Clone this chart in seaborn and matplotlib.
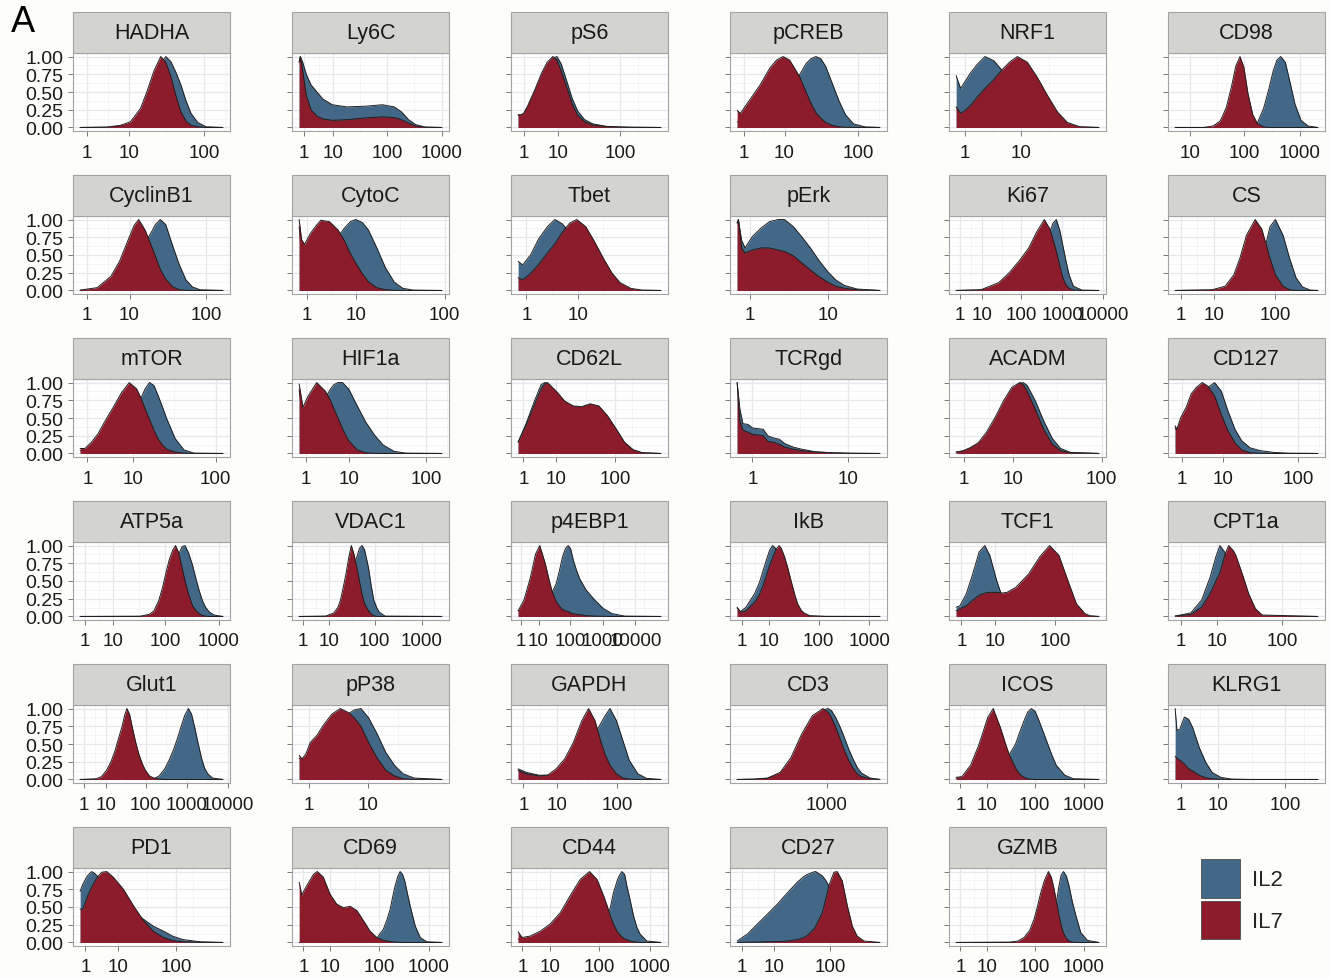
import numpy as np
import pandas as pd
import matplotlib
matplotlib.use("Agg")
import matplotlib.pyplot as plt
from matplotlib.patches import Rectangle, Patch
import seaborn as sns

# ---------------------------------------------------------------------------
# Data: per-marker density profiles for IL2- and IL7-cultured cells.
# Positions are on the arcsinh(x / 5) intensity scale; densities are scaled
# so that each group's maximum equals 1.
# ---------------------------------------------------------------------------
MARKERS = [
    "HADHA", "Ly6C", "pS6", "pCREB", "NRF1", "CD98",
    "CyclinB1", "CytoC", "Tbet", "pErk", "Ki67", "CS",
    "mTOR", "HIF1a", "CD62L", "TCRgd", "ACADM", "CD127",
    "ATP5a", "VDAC1", "p4EBP1", "IkB", "TCF1", "CPT1a",
    "Glut1", "pP38", "GAPDH", "CD3", "ICOS", "KLRG1",
    "PD1", "CD69", "CD44", "CD27", "GZMB",
]
GROUPS = ["IL2", "IL7"]
GROUP_COLORS = {"IL2": "#436887", "IL7": "#8C1C2B"}
COFACTOR = 5
TICK_VALUES = [1, 10, 100, 1000, 10000]
Y_TICKS = [0.0, 0.25, 0.5, 0.75, 1.0]

POS = [
    [0, 0.8, 1.2, 1.5, 1.8, 2.0, 2.2, 2.4, 2.55, 2.7, 2.85, 3.0, 3.15, 3.3, 3.5, 3.75, 4.25],  # HADHA
    [0, 0.05, 0.15, 0.3, 0.5, 0.75, 1.0, 1.4, 2.0, 2.8, 3.5, 4.0, 4.3, 4.6, 4.9, 5.3, 6.0],  # Ly6C
    [0, 0.1, 0.2, 0.35, 0.6, 0.85, 1.05, 1.25, 1.4, 1.55, 1.75, 1.95, 2.15, 2.4, 2.7, 3.2, 4.0, 5.15],  # pS6
    [0, 0.1, 0.4, 0.7, 1.0, 1.2, 1.4, 1.6, 1.9, 2.1, 2.25, 2.4, 2.55, 2.7, 2.9, 3.1, 3.3, 3.55, 3.9, 4.35],  # pCREB
    [0, 0.1, 0.2, 0.32, 0.47, 0.64, 0.84, 1.0, 1.2, 1.36, 1.58, 1.8, 2.03, 2.25, 2.47, 2.75, 3.17],  # NRF1
    [0.83, 2.0, 2.4, 2.7, 2.95, 3.15, 3.35, 3.52, 3.68, 3.85, 4.05, 4.25, 4.5, 4.7, 4.9, 5.05, 5.21, 5.4, 5.6, 5.8, 6.05, 6.35, 6.75],  # CD98
    [0, 0.5, 0.9, 1.15, 1.4, 1.58, 1.71, 1.9, 2.09, 2.2, 2.34, 2.5, 2.71, 2.9, 3.09, 3.28, 3.5, 4.17],  # CyclinB1
    [0, 0.06, 0.14, 0.28, 0.44, 0.55, 0.77, 0.99, 1.15, 1.3, 1.43, 1.6, 1.76, 1.97, 2.19, 2.41, 2.63, 2.9, 3.62],  # CytoC
    [0, 0.11, 0.3, 0.5, 0.71, 0.89, 1.07, 1.25, 1.42, 1.64, 1.85, 2.06, 2.27, 2.47, 2.73, 3.0, 3.46],  # Tbet
    [0, 0.02, 0.07, 0.125, 0.24, 0.38, 0.51, 0.65, 0.75, 0.89, 1.02, 1.16, 1.29, 1.43, 1.56, 1.7, 1.9, 2.26],  # pErk
    [0, 1.4, 2.4, 3.0, 3.6, 4.1, 4.56, 4.98, 5.29, 5.47, 5.66, 5.85, 6.02, 6.2, 6.38, 6.62, 7.1, 8.06],  # Ki67
    [0, 1.37, 1.85, 2.17, 2.4, 2.64, 2.96, 3.2, 3.36, 3.51, 3.71, 3.99, 4.23, 4.47, 4.71, 5.0, 5.28],  # CS
    [0, 0.13, 0.31, 0.49, 0.66, 0.9, 1.13, 1.34, 1.54, 1.66, 1.77, 1.89, 2.01, 2.13, 2.24, 2.36, 2.59, 2.83, 3.1, 3.89],  # mTOR
    [0, 0.11, 0.26, 0.51, 0.76, 0.9, 1.01, 1.13, 1.26, 1.44, 1.69, 1.94, 2.19, 2.44, 2.76, 3.1, 4.15],  # HIF1a
    [0, 0.3, 0.63, 0.87, 1.0, 1.11, 1.44, 1.76, 2.09, 2.41, 2.73, 3.06, 3.39, 3.71, 4.03, 4.36, 4.7, 5.41],  # CD62L
    [0, 0.035, 0.075, 0.14, 0.2, 0.27, 0.34, 0.4, 0.47, 0.55, 0.62, 0.73, 0.84, 1.01, 1.24, 1.5, 1.86],  # TCRgd
    [0, 0.18, 0.35, 0.56, 0.77, 0.99, 1.2, 1.41, 1.61, 1.7, 1.8, 2.01, 2.22, 2.44, 2.65, 2.9, 3.62],  # ACADM
    [0, 0.05, 0.17, 0.33, 0.48, 0.63, 0.81, 0.98, 1.18, 1.38, 1.58, 1.79, 1.99, 2.24, 2.54, 2.94, 3.4, 4.27],  # CD127
    [0, 2.6, 3.0, 3.2, 3.4, 3.57, 3.72, 3.85, 4.0, 4.13, 4.27, 4.41, 4.54, 4.69, 4.87, 5.0, 5.15, 5.3, 5.43, 5.6, 5.8, 6.18],  # ATP5a
    [0, 1.3, 1.7, 1.9, 2.02, 2.15, 2.29, 2.42, 2.55, 2.68, 2.82, 2.95, 3.07, 3.2, 3.39, 3.52, 3.65, 3.8, 3.92, 4.2, 6.98],  # VDAC1
    [0, 0.41, 0.87, 1.23, 1.53, 1.93, 2.15, 2.38, 2.69, 2.95, 3.14, 3.35, 3.54, 3.72, 3.91, 4.15, 4.36, 4.82, 5.43, 6.04, 6.65, 7.55, 10.1],  # p4EBP1
    [0, 0.15, 0.4, 0.79, 1.0, 1.18, 1.35, 1.47, 1.6, 1.75, 1.9, 2.0, 2.15, 2.3, 2.44, 2.6, 2.74, 2.9, 3.03, 3.3, 4.0, 6.47],  # IkB
    [0, 0.14, 0.38, 0.62, 0.86, 1.07, 1.26, 1.51, 1.7, 1.9, 2.23, 2.71, 3.12, 3.49, 3.84, 4.17, 4.49, 4.81, 5.0, 5.33],  # TCF1
    [0, 0.54, 0.91, 1.2, 1.4, 1.54, 1.72, 1.84, 2.0, 2.09, 2.31, 2.53, 2.76, 3.0, 4.91],  # CPT1a
    [0, 0.9, 1.2, 1.49, 1.75, 1.97, 2.15, 2.34, 2.5, 2.63, 2.78, 2.94, 3.12, 3.3, 3.5, 3.67, 3.9,
     4.15, 4.45, 4.76, 5.0, 5.24, 5.45, 5.66, 5.88, 6.09, 6.27, 6.45, 6.63, 6.82, 7.0, 7.18, 7.45, 8.03],  # Glut1
    [0, 0.06, 0.14, 0.23, 0.37, 0.5, 0.68, 0.86, 1.04, 1.15, 1.29, 1.45, 1.63, 1.81, 1.99, 2.17, 2.4, 2.98],  # pP38
    [0, 0.3, 0.78, 1.1, 1.42, 1.74, 2.06, 2.38, 2.63, 2.87, 3.1, 3.25, 3.43, 3.67, 3.91, 4.15, 4.47, 4.8, 5.33],  # GAPDH
    [3.9, 4.3, 4.61, 4.91, 5.16, 5.41, 5.66, 5.91, 6.03, 6.11, 6.21, 6.31, 6.41, 6.51, 6.61, 6.71, 6.81, 7.01, 7.24],  # CD3
    [0, 0.27, 0.68, 1.08, 1.48, 1.74, 2.08, 2.3, 2.48, 2.79, 3.0, 3.19, 3.36, 3.53, 3.71, 3.89, 4.1, 4.3, 4.5, 4.7, 5.1, 5.5, 6.7],  # ICOS
    [0, 0.06, 0.16, 0.31, 0.45, 0.59, 0.81, 1.03, 1.24, 1.53, 1.9, 2.5, 4.79],  # KLRG1
    [0, 0.1, 0.28, 0.44, 0.57, 0.7, 0.83, 1.02, 1.27, 1.66, 2.04, 2.42, 2.8, 3.19, 3.57, 3.95, 4.59, 5.47],  # PD1
    [0, 0.12, 0.35, 0.66, 0.84, 1.12, 1.43, 1.74, 2.05, 2.36, 2.67, 2.97, 3.28, 3.59, 3.9, 4.06, 4.21, 4.35,
     4.44, 4.56, 4.67, 4.78, 4.9, 5.0, 5.13, 5.37, 5.6, 5.9, 6.6],  # CD69
    [0, 0.18, 0.55, 1.01, 1.46, 1.92, 2.37, 2.83, 3.25, 3.59, 3.89, 4.05, 4.19, 4.34, 4.5, 4.57, 4.72, 4.85,
     4.95, 5.1, 5.25, 5.4, 5.55, 5.86, 6.5],  # CD44
    [0, 0.41, 0.8, 1.2, 1.59, 1.99, 2.38, 2.64, 2.78, 3.04, 3.11, 3.37, 3.5, 3.63, 3.83, 3.96, 4.16, 4.36, 4.56, 4.75, 5.02, 5.65],  # CD27
    [0, 2.5, 2.9, 3.19, 3.45, 3.66, 3.82, 3.97, 4.15, 4.33, 4.47, 4.6, 4.68, 4.83, 4.93, 5.04, 5.17, 5.3, 5.45, 5.62, 5.85, 6.16, 6.7],  # GZMB
]

DENS_IL2 = [
    [0, 0.003, 0.02, 0.05, 0.17, 0.35, 0.62, 0.90, 1.0, 0.93, 0.78, 0.60, 0.38, 0.20, 0.07, 0.01, 0],
    [0.92, 1.0, 0.92, 0.75, 0.60, 0.50, 0.40, 0.32, 0.29, 0.30, 0.32, 0.29, 0.22, 0.11, 0.04, 0.005, 0],
    [0.17, 0.17, 0.19, 0.29, 0.50, 0.73, 0.88, 0.98, 1.0, 0.90, 0.66, 0.41, 0.23, 0.11, 0.05, 0.015, 0.004, 0],
    [0.08, 0.08, 0.15, 0.22, 0.32, 0.40, 0.48, 0.57, 0.74, 0.90, 0.97, 1.0, 0.97, 0.86, 0.62, 0.38, 0.18, 0.05, 0.008, 0],
    [0.73, 0.55, 0.65, 0.77, 0.89, 1.0, 0.94, 0.82, 0.62, 0.50, 0.35, 0.22, 0.12, 0.06, 0.02, 0.005, 0],
    [0, 0, 0, 0, 0, 0, 0, 0, 0, 0.001, 0.02, 0.07, 0.27, 0.52, 0.80, 0.95, 1.0, 0.92, 0.63, 0.33, 0.10, 0.02, 0],
    [0, 0.01, 0.05, 0.12, 0.26, 0.40, 0.50, 0.67, 0.83, 0.93, 1.0, 0.93, 0.62, 0.36, 0.15, 0.05, 0.01, 0],
    [0.9, 0.5, 0.35, 0.35, 0.42, 0.48, 0.62, 0.76, 0.88, 0.97, 1.0, 0.96, 0.85, 0.60, 0.32, 0.12, 0.03, 0.005, 0],
    [0.41, 0.36, 0.50, 0.73, 0.90, 1.0, 0.94, 0.82, 0.68, 0.50, 0.35, 0.20, 0.10, 0.04, 0.01, 0.002, 0],
    [0.95, 1.0, 0.71, 0.60, 0.76, 0.88, 0.97, 1.0, 1.0, 0.90, 0.76, 0.60, 0.43, 0.27, 0.15, 0.07, 0.02, 0],
    [0, 0.005, 0.06, 0.15, 0.27, 0.40, 0.55, 0.68, 0.82, 0.95, 1.0, 0.85, 0.64, 0.42, 0.22, 0.06, 0.005, 0],
    [0, 0.003, 0.02, 0.06, 0.12, 0.22, 0.40, 0.55, 0.66, 0.90, 1.0, 0.78, 0.46, 0.18, 0.05, 0.005, 0],
    [0.04, 0.05, 0.08, 0.13, 0.20, 0.33, 0.48, 0.62, 0.72, 0.78, 0.91, 1.0, 0.96, 0.81, 0.66, 0.49, 0.21, 0.05, 0.005, 0],
    [0.9, 0.45, 0.40, 0.55, 0.78, 0.90, 0.97, 1.0, 1.0, 0.91, 0.67, 0.44, 0.26, 0.12, 0.03, 0.005, 0],
    [0.16, 0.42, 0.75, 0.97, 1.0, 0.99, 0.87, 0.73, 0.66, 0.65, 0.69, 0.66, 0.52, 0.34, 0.15, 0.05, 0.01, 0],
    [1.0, 0.63, 0.42, 0.41, 0.36, 0.35, 0.34, 0.25, 0.22, 0.20, 0.14, 0.09, 0.06, 0.025, 0.01, 0.003, 0],
    [0.02, 0.03, 0.07, 0.13, 0.26, 0.46, 0.69, 0.89, 0.99, 1.0, 0.96, 0.74, 0.46, 0.21, 0.07, 0.015, 0],
    [0.36, 0.32, 0.45, 0.55, 0.66, 0.76, 0.85, 0.93, 1.0, 0.88, 0.60, 0.34, 0.18, 0.08, 0.04, 0.015, 0.004, 0],
    [0, 0.001, 0.01, 0.03, 0.07, 0.14, 0.25, 0.38, 0.56, 0.72, 0.88, 0.98, 1.0, 0.90, 0.72, 0.55, 0.37, 0.22, 0.13, 0.06, 0.02, 0],
    [0, 0.001, 0.01, 0.04, 0.08, 0.15, 0.26, 0.42, 0.58, 0.72, 0.84, 0.96, 1.0, 0.94, 0.69, 0.44, 0.23, 0.12, 0.06, 0.005, 0],
    [0.08, 0.09, 0.10, 0.11, 0.12, 0.16, 0.24, 0.33, 0.46, 0.67, 0.84, 0.96, 1.0, 0.95, 0.79, 0.64, 0.53, 0.37, 0.23, 0.11, 0.04, 0.005, 0],
    [0.12, 0.07, 0.13, 0.32, 0.47, 0.65, 0.82, 0.93, 1.0, 0.96, 0.86, 0.75, 0.58, 0.40, 0.28, 0.15, 0.08, 0.04, 0.02, 0.005, 0, 0],
    [0.13, 0.15, 0.32, 0.60, 0.91, 1.0, 0.86, 0.51, 0.30, 0.20, 0.18, 0.22, 0.28, 0.30, 0.25, 0.14, 0.05, 0.01, 0.002, 0],
    [0.005, 0.05, 0.23, 0.55, 0.84, 1.0, 0.90, 0.76, 0.58, 0.48, 0.25, 0.09, 0.03, 0.005, 0],
    [0, 0, 0, 0, 0, 0, 0, 0, 0, 0, 0, 0, 0, 0, 0, 0, 0,
     0.01, 0.05, 0.15, 0.27, 0.41, 0.56, 0.73, 0.90, 1.0, 0.92, 0.73, 0.52, 0.31, 0.16, 0.08, 0.02, 0],
    [0.30, 0.28, 0.32, 0.38, 0.45, 0.55, 0.70, 0.84, 0.93, 0.98, 1.0, 0.87, 0.64, 0.38, 0.20, 0.08, 0.02, 0],
    [0.15, 0.10, 0.06, 0.06, 0.08, 0.13, 0.22, 0.35, 0.48, 0.64, 0.80, 0.90, 1.0, 0.83, 0.55, 0.27, 0.08, 0.015, 0],
    [0, 0.004, 0.015, 0.08, 0.26, 0.56, 0.84, 0.98, 1.0, 0.97, 0.87, 0.74, 0.59, 0.43, 0.29, 0.17, 0.09, 0.02, 0],
    [0.02, 0.02, 0.02, 0.03, 0.06, 0.10, 0.18, 0.26, 0.34, 0.50, 0.68, 0.83, 0.95, 1.0, 0.96, 0.83, 0.66, 0.50, 0.34, 0.20, 0.06, 0.01, 0],
    [1.0, 0.69, 0.71, 0.88, 0.85, 0.73, 0.45, 0.24, 0.10, 0.03, 0.005, 0, 0],
    [0.72, 0.82, 0.94, 1.0, 0.97, 0.92, 0.86, 0.80, 0.72, 0.60, 0.45, 0.33, 0.23, 0.16, 0.085, 0.04, 0.01, 0],
    [0, 0, 0, 0, 0, 0, 0, 0, 0, 0.002, 0.005, 0.01, 0.025, 0.06, 0.19, 0.32, 0.47, 0.68,
     0.80, 0.93, 1.0, 0.96, 0.85, 0.70, 0.52, 0.23, 0.07, 0.01, 0],
    [0.05, 0.04, 0.04, 0.05, 0.06, 0.08, 0.10, 0.14, 0.18, 0.24, 0.33, 0.40, 0.48, 0.70, 0.86, 0.92, 1.0, 0.96,
     0.80, 0.60, 0.38, 0.22, 0.12, 0.02, 0],
    [0.02, 0.12, 0.26, 0.40, 0.54, 0.70, 0.85, 0.93, 0.96, 0.995, 1.0, 0.94, 0.88, 0.80, 0.62, 0.48, 0.28, 0.13, 0.05, 0.015, 0, 0],
    [0, 0, 0.002, 0.006, 0.015, 0.03, 0.06, 0.10, 0.18, 0.28, 0.38, 0.45, 0.52, 0.80, 0.95, 1.0, 0.94, 0.80, 0.58, 0.38, 0.14, 0.03, 0],
]

DENS_IL7 = [
    [0, 0.005, 0.03, 0.08, 0.27, 0.52, 0.80, 1.0, 0.92, 0.72, 0.45, 0.22, 0.09, 0.03, 0.01, 0.0, 0],
    [0.92, 1.0, 0.80, 0.45, 0.25, 0.16, 0.12, 0.10, 0.11, 0.135, 0.15, 0.14, 0.11, 0.06, 0.02, 0.003, 0],
    [0.18, 0.18, 0.20, 0.31, 0.53, 0.77, 0.92, 1.0, 0.95, 0.80, 0.57, 0.33, 0.17, 0.08, 0.035, 0.01, 0.002, 0],
    [0.24, 0.20, 0.40, 0.60, 0.84, 0.95, 1.0, 0.95, 0.72, 0.50, 0.34, 0.21, 0.13, 0.07, 0.03, 0.01, 0.004, 0.001, 0, 0],
    [0.29, 0.20, 0.24, 0.31, 0.43, 0.55, 0.68, 0.80, 0.93, 1.0, 0.92, 0.71, 0.45, 0.22, 0.07, 0.01, 0],
    [0, 0, 0.02, 0.09, 0.28, 0.55, 0.87, 1.0, 0.85, 0.48, 0.18, 0.05, 0.01, 0, 0, 0, 0, 0, 0, 0, 0, 0, 0],
    [0.005, 0.04, 0.20, 0.41, 0.71, 0.92, 1.0, 0.85, 0.62, 0.48, 0.30, 0.16, 0.05, 0.01, 0.003, 0, 0, 0],
    [1.0, 0.72, 0.65, 0.80, 0.92, 0.99, 0.97, 0.85, 0.70, 0.52, 0.39, 0.24, 0.12, 0.04, 0.01, 0.003, 0, 0, 0],
    [0.18, 0.15, 0.24, 0.37, 0.53, 0.66, 0.82, 0.95, 1.0, 0.90, 0.69, 0.46, 0.25, 0.11, 0.03, 0.005, 0],
    [0.95, 1.0, 0.60, 0.53, 0.57, 0.60, 0.60, 0.57, 0.55, 0.49, 0.39, 0.29, 0.20, 0.12, 0.06, 0.03, 0.01, 0],
    [0, 0.01, 0.11, 0.25, 0.43, 0.60, 0.83, 1.0, 0.87, 0.72, 0.55, 0.35, 0.18, 0.08, 0.03, 0.005, 0, 0],
    [0, 0.01, 0.06, 0.22, 0.46, 0.78, 1.0, 0.87, 0.66, 0.45, 0.22, 0.06, 0.01, 0, 0, 0, 0],
    [0.07, 0.07, 0.16, 0.28, 0.44, 0.65, 0.86, 1.0, 0.91, 0.78, 0.63, 0.48, 0.33, 0.20, 0.12, 0.06, 0.02, 0.005, 0, 0],
    [0.98, 0.65, 0.81, 1.0, 0.88, 0.76, 0.63, 0.50, 0.35, 0.18, 0.05, 0.01, 0.002, 0, 0, 0, 0],
    [0.16, 0.40, 0.70, 0.91, 0.98, 1.0, 0.88, 0.74, 0.67, 0.66, 0.70, 0.67, 0.53, 0.35, 0.16, 0.05, 0.01, 0],
    [1.0, 0.45, 0.33, 0.30, 0.27, 0.26, 0.25, 0.17, 0.16, 0.13, 0.09, 0.06, 0.04, 0.02, 0.008, 0.002, 0],
    [0.02, 0.04, 0.08, 0.15, 0.30, 0.51, 0.74, 0.93, 1.0, 0.97, 0.88, 0.62, 0.34, 0.13, 0.04, 0.01, 0],
    [0.39, 0.34, 0.51, 0.65, 0.84, 0.93, 1.0, 0.95, 0.81, 0.55, 0.32, 0.15, 0.05, 0.01, 0.002, 0, 0, 0],
    [0, 0.003, 0.03, 0.08, 0.22, 0.41, 0.62, 0.79, 0.93, 1.0, 0.90, 0.69, 0.50, 0.32, 0.15, 0.09, 0.04, 0.015, 0.005, 0, 0, 0],
    [0, 0.005, 0.05, 0.13, 0.23, 0.40, 0.60, 0.82, 1.0, 0.88, 0.69, 0.50, 0.32, 0.18, 0.08, 0.035, 0.01, 0.003, 0, 0, 0],
    [0.08, 0.23, 0.55, 0.88, 1.0, 0.74, 0.55, 0.37, 0.21, 0.14, 0.10, 0.08, 0.07, 0.05, 0.04, 0.03, 0.025, 0.012, 0.005, 0.002, 0, 0, 0],
    [0.13, 0.06, 0.08, 0.20, 0.30, 0.44, 0.60, 0.72, 0.82, 0.94, 1.0, 0.96, 0.84, 0.68, 0.51, 0.32, 0.18, 0.09, 0.05, 0.01, 0.002, 0],
    [0.08, 0.11, 0.15, 0.23, 0.30, 0.33, 0.34, 0.34, 0.33, 0.34, 0.41, 0.60, 0.84, 1.0, 0.86, 0.51, 0.18, 0.04, 0.01, 0],
    [0.005, 0.03, 0.13, 0.32, 0.50, 0.62, 0.88, 1.0, 0.93, 0.86, 0.60, 0.32, 0.11, 0.02, 0],
    [0, 0.01, 0.04, 0.13, 0.26, 0.41, 0.57, 0.73, 0.90, 1.0, 0.92, 0.73, 0.53, 0.36, 0.22, 0.13, 0.05,
     0.02, 0.005, 0, 0, 0, 0, 0, 0, 0, 0, 0, 0, 0, 0, 0, 0, 0],
    [0.34, 0.29, 0.36, 0.52, 0.62, 0.76, 0.92, 1.0, 0.94, 0.87, 0.75, 0.52, 0.30, 0.13, 0.05, 0.01, 0.002, 0],
    [0.13, 0.08, 0.05, 0.06, 0.15, 0.29, 0.52, 0.83, 1.0, 0.83, 0.52, 0.35, 0.20, 0.08, 0.02, 0.005, 0, 0, 0],
    [0, 0.005, 0.02, 0.10, 0.31, 0.64, 0.90, 1.0, 0.95, 0.87, 0.73, 0.57, 0.41, 0.27, 0.16, 0.08, 0.04, 0.01, 0],
    [0.03, 0.04, 0.20, 0.50, 0.87, 1.0, 0.73, 0.52, 0.36, 0.16, 0.07, 0.03, 0.01, 0.005, 0, 0, 0, 0, 0, 0, 0, 0, 0],
    [0.33, 0.30, 0.27, 0.22, 0.15, 0.12, 0.06, 0.025, 0.01, 0.003, 0, 0, 0],
    [0.47, 0.47, 0.65, 0.78, 0.87, 0.94, 0.99, 1.0, 0.92, 0.75, 0.52, 0.31, 0.16, 0.07, 0.025, 0.01, 0.002, 0],
    [0.85, 0.67, 0.80, 0.96, 1.0, 0.92, 0.68, 0.54, 0.49, 0.51, 0.45, 0.31, 0.16, 0.07, 0.03, 0.02, 0.012, 0.008,
     0.005, 0.003, 0, 0, 0, 0, 0, 0, 0, 0, 0],
    [0.15, 0.07, 0.09, 0.16, 0.26, 0.42, 0.66, 0.89, 1.0, 0.89, 0.66, 0.52, 0.38, 0.26, 0.16, 0.13, 0.08, 0.05,
     0.04, 0.02, 0.01, 0.005, 0, 0, 0],
    [0, 0.003, 0.005, 0.01, 0.012, 0.02, 0.04, 0.07, 0.10, 0.19, 0.23, 0.42, 0.60, 0.80, 0.99, 1.0, 0.87, 0.52, 0.23, 0.09, 0.02, 0],
    [0, 0.005, 0.02, 0.07, 0.17, 0.33, 0.51, 0.70, 0.88, 1.0, 0.92, 0.75, 0.62, 0.38, 0.24, 0.13, 0.06, 0.02, 0.005, 0, 0, 0, 0],
]

# ---------------------------------------------------------------------------
# Long-form table for seaborn
# ---------------------------------------------------------------------------
records = []
for marker, pos, d2, d7 in zip(MARKERS, POS, DENS_IL2, DENS_IL7):
    for group, dens in zip(GROUPS, (d2, d7)):
        for p, d in zip(pos, dens):
            records.append((marker, group, p, d))
df = pd.DataFrame(records, columns=["marker", "group", "pos", "density"])

# ---------------------------------------------------------------------------
# Styling
# ---------------------------------------------------------------------------
sns.set_theme(style="white")
plt.rcParams["font.family"] = ["Liberation Sans", "DejaVu Sans"]

BG = "#FDFDFA"
OUTLINE = "#1E1E1E"
TEXT = "#1A1A1A"
BORDER = "#A3A3A3"
STRIP_FILL = "#D3D3CF"
GRID_MAJOR = "#E7E7EE"
GRID_MINOR = "#F1F1F5"

FIG_W, FIG_H = 1330, 979
COL_X0, COL_STEP = 73, 219
ROW_Y0, ROW_STEP = 13, 163
STRIP_H, PANEL_W, PANEL_H = 41, 157, 78
NCOL = 6


def draw_density(data, color, label=None, **kws):
    ax = plt.gca()
    z = 2 + 2 * GROUPS.index(label)
    ax.fill_between(data["pos"], 0, data["density"], color=color, lw=0, zorder=z)
    ax.plot(data["pos"], data["density"], color=OUTLINE, lw=0.7, zorder=z + 0.5)


def minor_breaks(major, lo, hi):
    b = list(major)
    if len(b) < 2:
        return []
    step = b[1] - b[0]
    if lo < b[0]:
        b = [b[0] - step] + b
    if hi > b[-1]:
        b = b + [b[-1] + step]
    mids = [(a + c) / 2 for a, c in zip(b[:-1], b[1:])]
    return [m for m in mids if lo <= m <= hi]


g = sns.FacetGrid(
    df, col="marker", col_order=MARKERS, col_wrap=NCOL,
    hue="group", hue_order=GROUPS, palette=GROUP_COLORS,
    sharex=False, sharey=True, despine=False, height=2, aspect=1,
)
g.map_dataframe(draw_density)

fig = g.figure
fig.set_size_inches(FIG_W / 100, FIG_H / 100)
fig.set_facecolor(BG)

tick_pos_all = np.arcsinh(np.array(TICK_VALUES, dtype=float) / COFACTOR)

for i, marker in enumerate(MARKERS):
    ax = g.axes_dict[marker]
    r, c = divmod(i, NCOL)
    left = COL_X0 + c * COL_STEP
    top = ROW_Y0 + r * ROW_STEP + STRIP_H
    ax.set_position([left / FIG_W, 1 - (top + PANEL_H) / FIG_H,
                     PANEL_W / FIG_W, PANEL_H / FIG_H])
    ax.set_title("")
    ax.set_xlabel("")
    ax.set_ylabel("")
    ax.set_facecolor("white")

    pos = POS[i]
    lo, hi = min(pos), max(pos)
    span = hi - lo
    xlo, xhi = lo - 0.05 * span, hi + 0.05 * span
    ax.set_xlim(xlo, xhi)
    ax.set_ylim(-0.05, 1.05)

    keep = [(p, v) for p, v in zip(tick_pos_all, TICK_VALUES) if xlo <= p <= xhi]
    ax.set_xticks([p for p, _ in keep])
    ax.set_xticklabels([str(v) for _, v in keep])
    ax.set_xticks(minor_breaks([p for p, _ in keep], xlo, xhi), minor=True)

    ax.set_yticks(Y_TICKS)
    ax.set_yticklabels([f"{v:.2f}" for v in Y_TICKS])
    ax.set_yticks(minor_breaks(Y_TICKS, -0.05, 1.05), minor=True)

    ax.set_axisbelow(True)
    ax.grid(True, which="major", color=GRID_MAJOR, lw=0.9)
    ax.grid(True, which="minor", color=GRID_MINOR, lw=0.5)
    ax.tick_params(which="major", length=3.5, width=0.7, color="#777777",
                   labelcolor=TEXT, bottom=True, left=True)
    ax.tick_params(axis="x", which="major", labelsize=13.5, pad=5.5)
    ax.tick_params(axis="y", which="major", labelsize=14, pad=3.5)
    ax.tick_params(which="minor", length=0)
    for s in ax.spines.values():
        s.set_visible(True)
        s.set_color(BORDER)
        s.set_linewidth(0.8)

    # facet strip
    ax.add_patch(Rectangle((0, 1), 1, STRIP_H / PANEL_H, transform=ax.transAxes,
                           facecolor=STRIP_FILL, edgecolor=BORDER, lw=0.8,
                           clip_on=False, zorder=5))
    ax.text(0.5, 1 + STRIP_H / 2 / PANEL_H, marker, transform=ax.transAxes,
            ha="center", va="center", fontsize=15.5, color=TEXT, zorder=6)

handles = [Patch(facecolor=GROUP_COLORS[k], edgecolor="#4A4A4A", lw=0.6, label=k)
           for k in GROUPS]
fig.legend(handles=handles, loc="upper left",
           bbox_to_anchor=(1201 / FIG_W, 1 - 860 / FIG_H),
           frameon=False, fontsize=16, handlelength=1.75, handleheight=2.3,
           handletextpad=0.55, labelspacing=0.14, borderpad=0, borderaxespad=0)

fig.text(11 / FIG_W, 1 - 5 / FIG_H, "A", fontsize=26, color="black",
         ha="left", va="top")

fig.savefig("out.png", dpi=100, facecolor=BG)
